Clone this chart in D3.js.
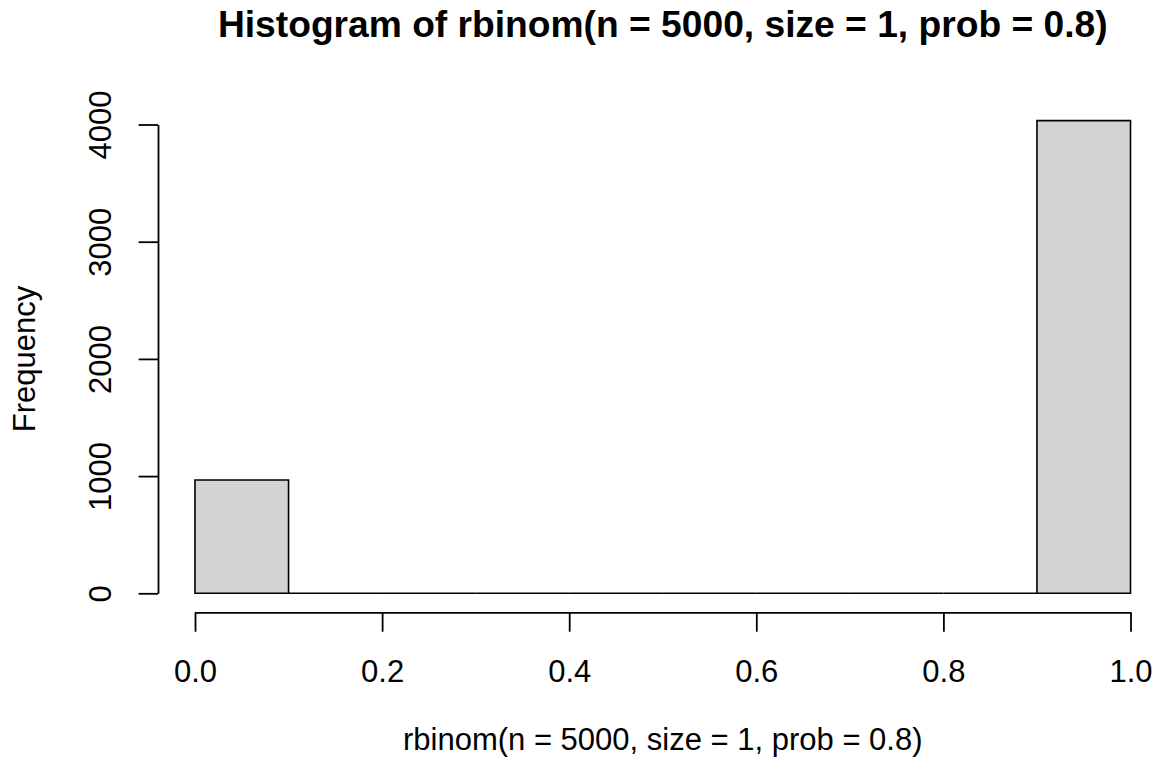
<!DOCTYPE html>
<html>
<head>
<meta charset="utf-8">
<script src="https://cdn.jsdelivr.net/npm/d3@7"></script>
<style>
  html, body { margin: 0; padding: 0; background: #ffffff; }
  svg { display: block; }
  text { font-family: "Liberation Sans", Arial, Helvetica, sans-serif; fill: #000; }
</style>
</head>
<body>
<svg id="chart" width="1158" height="765"></svg>
<script>
// ---- data ----
const breaks = [0, 0.1, 0.2, 0.3, 0.4, 0.5, 0.6, 0.7, 0.8, 0.9, 1.0];
const counts = [967, 0, 0, 0, 0, 0, 0, 0, 0, 4033];
const xTicks = [0, 0.2, 0.4, 0.6, 0.8, 1.0];
const yTicks = [0, 1000, 2000, 3000, 4000];
const titleText = "Histogram of rbinom(n = 5000, size = 1, prob = 0.8)";
const xLabel = "rbinom(n = 5000, size = 1, prob = 0.8)";
const yLabel = "Frequency";

// ---- layout ----
const svg = d3.select("#chart");
const x = d3.scaleLinear().domain([0, 1]).range([195, 1130.5]);
const y = d3.scaleLinear().domain([0, 4000]).range([593.3, 124.5]);
const fontSize = 31;

const bins = counts.map((c, i) => ({ x0: breaks[i], x1: breaks[i + 1], n: c }));

// bars (paths, so that zero-count bins still draw their outline on the baseline)
svg.append("g").selectAll("path").data(bins).join("path")
  .attr("d", d => {
    const x0 = x(d.x0), x1 = x(d.x1), y0 = y(0), y1 = y(d.n);
    return `M${x0},${y0}L${x0},${y1}L${x1},${y1}L${x1},${y0}Z`;
  })
  .attr("fill", "#d3d3d3")
  .attr("stroke", "#000")
  .attr("stroke-width", 1.6)
  .attr("stroke-linejoin", "miter");

// x axis
const xAxisY = 612.3;
const gx = svg.append("g").attr("transform", `translate(0,${xAxisY})`)
  .call(d3.axisBottom(x).tickValues(xTicks).tickSize(19.4).tickSizeOuter(0).tickFormat(d3.format(".1f")));
gx.selectAll("path, line").attr("stroke", "#000").attr("stroke-width", 1.8);
gx.selectAll("text")
  .attr("y", 69.5).attr("dy", null)
  .style("font-size", fontSize + "px")
  .style("font-family", "'Liberation Sans', Arial, sans-serif")
  .attr("fill", "#000");

// y axis
const yAxisX = 158;
const gy = svg.append("g").attr("transform", `translate(${yAxisX},0)`)
  .call(d3.axisLeft(y).tickValues(yTicks).tickSize(19.4).tickSizeOuter(0).tickFormat(d3.format("d")));
gy.selectAll("path, line").attr("stroke", "#000").attr("stroke-width", 1.8);
gy.selectAll(".tick text")
  .attr("x", null).attr("dy", null).attr("y", null)
  .attr("text-anchor", "middle")
  .attr("transform", "translate(-47,0) rotate(-90)")
  .style("font-size", fontSize + "px")
  .style("font-family", "'Liberation Sans', Arial, sans-serif")
  .attr("fill", "#000");

// title
svg.append("text")
  .attr("x", (x(0) + x(1)) / 2)
  .attr("y", 36.7)
  .attr("text-anchor", "middle")
  .style("font-size", (fontSize * 1.2) + "px")
  .style("font-weight", "bold")
  .text(titleText);

// x label
svg.append("text")
  .attr("x", (x(0) + x(1)) / 2)
  .attr("y", 749.5)
  .attr("text-anchor", "middle")
  .style("font-size", fontSize + "px")
  .text(xLabel);

// y label
svg.append("text")
  .attr("transform", `translate(35,${(y(0) + y(4000)) / 2}) rotate(-90)`)
  .attr("text-anchor", "middle")
  .style("font-size", fontSize + "px")
  .text(yLabel);
</script>
</body>
</html>
